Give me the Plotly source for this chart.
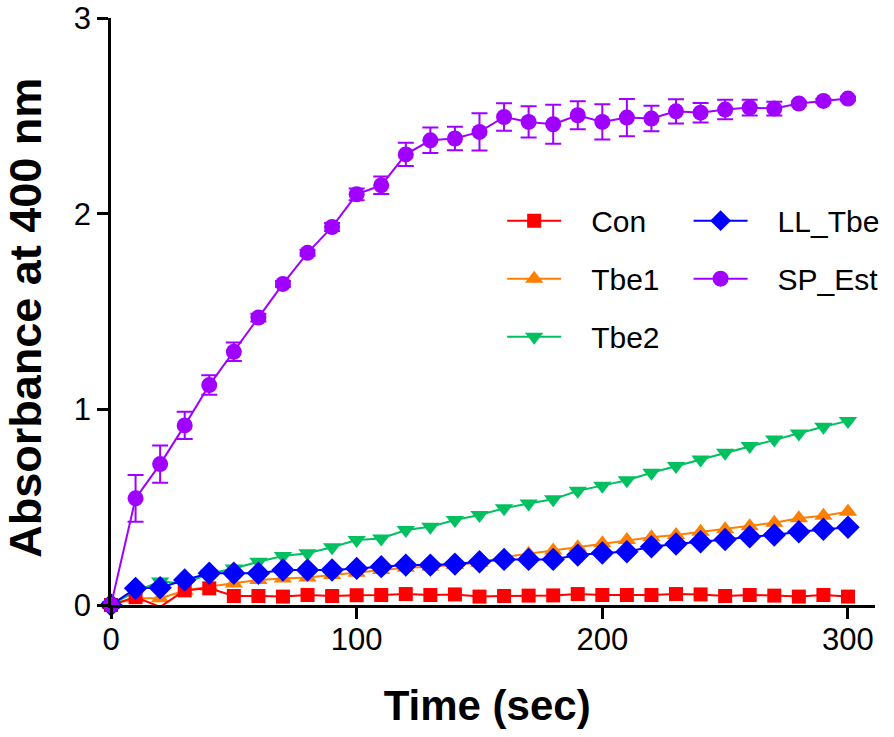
import plotly.graph_objects as go

time = list(range(0, 301, 10))

con = [0, 0.04, -0.01, 0.075, 0.085, 0.046, 0.046, 0.043, 0.051, 0.046, 0.05,
       0.051, 0.056, 0.051, 0.054, 0.043, 0.046, 0.048, 0.049, 0.056, 0.051,
       0.051, 0.051, 0.056, 0.054, 0.046, 0.051, 0.048, 0.043, 0.051, 0.043]
tbe1 = [0, 0.035, 0.035, 0.073, 0.094, 0.11, 0.128, 0.136, 0.141, 0.153, 0.165,
        0.179, 0.19, 0.196, 0.205, 0.216, 0.245, 0.262, 0.278, 0.295, 0.315,
        0.332, 0.346, 0.358, 0.374, 0.387, 0.403, 0.42, 0.443, 0.456, 0.477]
tbe2 = [0, 0.07, 0.12, 0.11, 0.16, 0.187, 0.221, 0.25, 0.264, 0.295, 0.332,
        0.34, 0.383, 0.40, 0.434, 0.46, 0.494, 0.519, 0.54, 0.584, 0.61,
        0.638, 0.676, 0.71, 0.744, 0.778, 0.812, 0.846, 0.877, 0.911, 0.941]
ll_tbe = [0, 0.085, 0.088, 0.128, 0.162, 0.162, 0.162, 0.179, 0.179, 0.179, 0.187,
          0.196, 0.204, 0.204, 0.209, 0.221, 0.233, 0.233, 0.233, 0.255, 0.266,
          0.272, 0.298, 0.312, 0.323, 0.335, 0.349, 0.358, 0.374, 0.387, 0.397]
sp_est = [0, 0.545, 0.72, 0.918, 1.124, 1.294, 1.469, 1.641, 1.80, 1.932, 2.099,
          2.145, 2.303, 2.375, 2.384, 2.418, 2.494, 2.469, 2.457, 2.503, 2.469,
          2.491, 2.486, 2.523, 2.516, 2.532, 2.542, 2.537, 2.563, 2.576, 2.588]
sp_est_sd = [0, 0.12, 0.095, 0.07, 0.05, 0.047, 0.02, 0.015, 0.015, 0.02, 0.03,
             0.045, 0.06, 0.065, 0.06, 0.095, 0.07, 0.08, 0.10, 0.072, 0.09,
             0.095, 0.065, 0.062, 0.05, 0.05, 0.04, 0.035, 0.01, 0.01, 0.01]

x_ticks = [0, 100, 200, 300]
y_ticks = [0, 1, 2, 3]

FONT = "Arial, Liberation Sans, sans-serif"
PAD = "\u00a0\u00a0\u00a0"

fig = go.Figure()

def add(name, y, color, symbol, size, legend, rank, err=None):
    kw = {}
    if err is not None:
        kw["error_y"] = dict(type="data", array=err, visible=True, color=color,
                             thickness=2, width=8)
    fig.add_trace(go.Scatter(
        x=time, y=y, name=PAD + name, mode="lines+markers",
        line=dict(color=color, width=2),
        marker=dict(color=color, symbol=symbol, size=size, line=dict(width=0)),
        cliponaxis=False, legend=legend, legendgroup=name, legendrank=rank, **kw))

add("Tbe2", tbe2, "#00C060", "triangle-down", 16, "legend", 3)
add("Tbe1", tbe1, "#FF7F00", "triangle-up", 16, "legend", 2)
add("Con", con, "#FF0000", "square", 14, "legend", 1)
add("LL_Tbe", ll_tbe, "#0000FF", "diamond", 18, "legend2", 4)
add("SP_Est", sp_est, "#A000FF", "circle", 16, "legend2", 5, err=sp_est_sd)

axis_common = dict(
    showline=True, linecolor="black", linewidth=2.5,
    ticks="outside", ticklen=11, tickwidth=2.5, tickcolor="black",
    showgrid=False, zeroline=False, ticklabeloverflow="allow",
    tickfont=dict(family=FONT, size=31, color="black"),
)

fig.update_layout(
    width=894, height=737,
    paper_bgcolor="white", plot_bgcolor="white",
    margin=dict(l=111, r=19, t=18, b=132, autoexpand=False),
    xaxis=dict(range=[0, 311], tickvals=x_ticks, ticklabelstandoff=-6, **axis_common,
               title=dict(text="<b>Time (sec)\u00a0</b>",
                          font=dict(family=FONT, size=42, color="black"),
                          standoff=35)),
    yaxis=dict(range=[0, 3], tickvals=y_ticks, **axis_common,
               title=dict(text="<b>Absorbance at 400 nm\u00a0</b>",
                          font=dict(family=FONT, size=45, color="black"),
                          standoff=26)),
    legend=dict(x=0.512, y=0.699, xanchor="left", yanchor="top",
                traceorder="grouped", tracegroupgap=16,
                font=dict(family=FONT, size=30, color="black"),
                bgcolor="rgba(0,0,0,0)", itemwidth=54),
    legend2=dict(x=0.756, y=0.699, xanchor="left", yanchor="top",
                 traceorder="grouped", tracegroupgap=16,
                 font=dict(family=FONT, size=30, color="black"),
                 bgcolor="rgba(0,0,0,0)", itemwidth=54),
    showlegend=True,
)

fig.write_html("out.html", config={"displayModeBar": False},
               post_script="document.body.style.margin='0';")
